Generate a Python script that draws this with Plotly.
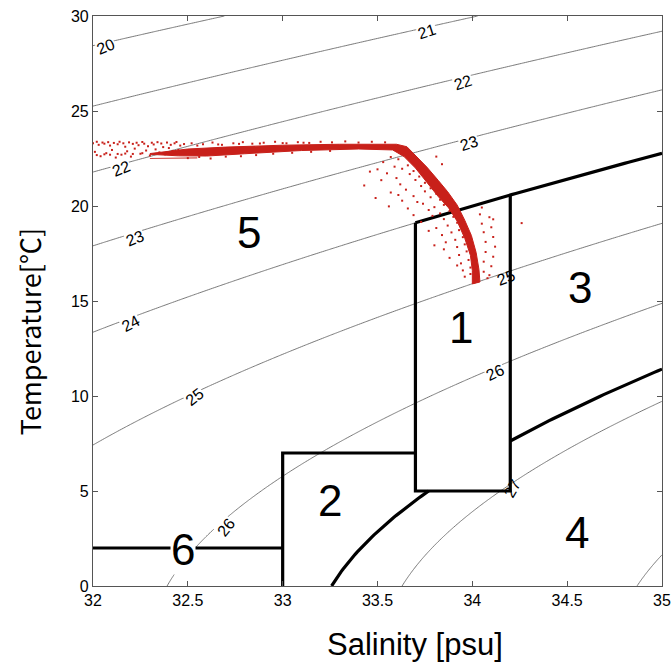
import numpy as np
import plotly.graph_objects as go

# ---------------- data ----------------
S_RANGE = [32.0, 35.0]
T_RANGE = [0.0, 30.0]
contour_levels = [20, 21, 22, 23, 24, 25, 26, 27, 28]
boundary_sigma_upper = 24.0      # top of box 1 / region 3
boundary_sigma_lower = 26.7      # region 3/4 and 2/4 boundary

box1_S = [33.7, 34.2]
box1_T_bottom = 5.0
box2_S = [33.0, 33.7]
box2_T_top = 7.0
region6_T = 2.0

region_labels = ["1", "2", "3", "4", "5", "6"]
region_label_S = [33.94, 33.25, 34.57, 34.55, 32.82, 32.475]
region_label_T = [13.6, 4.5, 15.7, 2.8, 18.6, 1.9]

clabel_text = ["20", "21", "22", "22", "23", "23", "24", "25", "25", "26", "26", "27"]
clabel_S = [32.07, 33.76, 32.15, 33.95, 32.22, 33.98, 32.20, 32.54, 34.18, 32.70, 34.12, 34.21]
clabel_T = [28.37, 29.16, 22.0, 26.5, 18.3, 23.3, 13.8, 9.95, 16.26, 3.1, 11.26, 5.15]
clabel_angle = [-22, -18, -22, -18, -22, -18, -28, -38, -20, -52, -25, -60]

# dense band of the observed T-S distribution (upper/left edge, then lower/right edge)
band_upper_S = [32.3, 32.4, 32.5, 32.7, 33.0, 33.3, 33.5, 33.6, 33.655, 33.7, 33.76, 33.82,
                33.87, 33.92, 33.96, 33.995, 34.02, 34.035, 34.04]
band_upper_T = [22.76, 22.88, 23.0, 23.1, 23.2, 23.25, 23.27, 23.25, 23.12, 22.65, 22.05, 21.35,
                20.75, 20.05, 19.25, 18.45, 17.55, 16.65, 16.0]
band_lower_S = [34.0, 34.0, 33.99, 33.96, 33.92, 33.875, 33.82, 33.76, 33.70, 33.64,
                33.58, 33.4, 33.1, 32.8, 32.6, 32.45, 32.3]
band_lower_T = [15.9, 16.6, 17.4, 18.3, 19.2, 19.9, 20.5, 21.25, 22.0, 22.6,
                22.95, 23.0, 22.92, 22.75, 22.63, 22.64, 22.72]
streak_S = [32.3, 32.42, 32.55]
streak_T = [22.5, 22.5, 22.53]

# scattered individual observations
left_S = [32.00, 32.02, 32.03, 32.05, 32.06, 32.08, 32.09, 32.11, 32.13, 32.14, 32.16, 32.17,
          32.19, 32.21, 32.23, 32.24, 32.26, 32.27, 32.29, 32.31, 32.32, 32.34, 32.36, 32.37,
          32.39, 32.41, 32.43, 32.44, 32.46, 32.48, 32.01, 32.04, 32.07, 32.10, 32.12, 32.15,
          32.18, 32.20, 32.22, 32.25, 32.28, 32.30, 32.33, 32.35, 32.38, 32.40, 32.42, 32.45,
          32.02, 32.06, 32.09, 32.13, 32.17, 32.21, 32.26]
left_T = [23.30, 23.38, 23.22, 23.34, 23.28, 23.36, 23.18, 23.32, 23.25, 23.38, 23.30, 23.12,
          23.35, 23.27, 23.33, 23.20, 23.37, 23.28, 23.15, 23.33, 23.24, 23.36, 23.29, 23.10,
          23.34, 23.22, 23.30, 23.37, 23.18, 23.26, 22.85, 22.62, 22.78, 22.95, 22.55, 22.70,
          22.88, 22.60, 23.02, 22.75, 22.92, 22.66, 22.98, 22.82, 22.72, 23.05, 22.90, 22.95,
          22.68, 22.72, 22.70, 22.74, 22.76, 22.74, 22.78]
top_S = [32.52, 32.58, 32.63, 32.68, 32.74, 32.79, 32.84, 32.90, 32.96, 33.02, 33.08, 33.14,
         33.20, 33.26, 33.33, 33.40, 33.47, 33.54, 32.55, 32.66, 32.77, 32.88, 33.00, 33.11]
top_T = [23.30, 23.25, 23.34, 23.22, 23.30, 23.36, 23.28, 23.33, 23.38, 23.30, 23.36, 23.32,
         23.38, 23.35, 23.40, 23.34, 23.38, 23.35, 23.18, 23.24, 23.27, 23.29, 23.31, 23.33]
bot_S = [32.50, 32.56, 32.62, 32.70, 32.78, 32.86, 32.95, 33.05, 33.15, 33.25]
bot_T = [22.52, 22.58, 22.50, 22.60, 22.62, 22.68, 22.75, 22.80, 22.85, 22.90]
halo_S = [33.61, 33.57, 33.53, 33.66, 33.59, 33.50, 33.69, 33.63, 33.55, 33.46, 33.72, 33.67,
          33.60, 33.52, 33.75, 33.70, 33.62, 33.43, 33.78, 33.73, 33.65, 33.57, 33.81, 33.75,
          33.69, 33.61, 33.49, 33.83, 33.78, 33.71, 33.63, 33.85, 33.80, 33.74, 33.66, 33.56,
          33.88, 33.83, 33.77, 33.69, 33.90, 33.85, 33.79, 33.73, 33.92, 33.87, 33.81, 33.93,
          33.89, 33.84, 33.77, 33.95, 33.91, 33.86, 33.96, 33.92, 33.85, 33.80, 33.97, 33.93,
          33.88, 33.98, 33.94, 33.99, 33.95, 33.92, 33.99, 33.96]
halo_T = [22.46, 22.58, 22.31, 22.14, 22.07, 21.93, 21.84, 21.96, 21.72, 21.81, 21.55, 21.68,
          21.47, 21.36, 21.22, 21.37, 21.14, 21.08, 20.93, 21.05, 20.86, 20.71, 20.64, 20.77,
          20.52, 20.58, 20.42, 20.33, 20.46, 20.21, 20.28, 20.06, 19.94, 20.12, 19.87, 19.98,
          19.74, 19.61, 19.79, 19.52, 19.43, 19.31, 19.48, 19.16, 19.12, 18.97, 18.84, 18.73,
          18.61, 18.47, 18.69, 18.36, 18.22, 18.09, 17.98, 17.84, 17.72, 17.93, 17.61, 17.42,
          17.27, 17.16, 16.98, 16.76, 16.61, 16.87, 16.42, 16.28]
right_S = [34.05, 34.04, 34.09, 34.05, 34.10, 34.06, 34.11, 34.07, 34.12, 34.07, 34.11,
           34.06, 34.10, 34.06, 34.09, 34.26, 34.11, 33.81, 33.84, 34.08]
right_T = [19.92, 19.56, 19.41, 19.07, 18.88, 18.62, 18.37, 18.11, 17.86, 17.58, 17.33,
           17.07, 16.83, 16.54, 16.36, 19.10, 19.30, 22.60, 22.20, 16.20]

RED = "#c8201a"

# ---------------- density (UNESCO EOS-80, surface) ----------------
def sigma_t(S, T):
    S = np.asarray(S, float)
    T = np.asarray(T, float)
    rw = (999.842594 + 6.793952e-2 * T - 9.095290e-3 * T**2 + 1.001685e-4 * T**3
          - 1.120083e-6 * T**4 + 6.536332e-9 * T**5)
    A = 0.824493 - 4.0899e-3 * T + 7.6438e-5 * T**2 - 8.2467e-7 * T**3 + 5.3875e-9 * T**4
    B = -5.72466e-3 + 1.0227e-4 * T - 1.6546e-6 * T**2
    return rw + A * S + B * S**1.5 + 4.8314e-4 * S**2 - 1000.0


def T_on_isopycnal(S, sig):
    S = np.asarray(S, float)
    lo = np.full_like(S, -2.0)
    hi = np.full_like(S, 35.0)
    for _ in range(60):
        mid = 0.5 * (lo + hi)
        too_dense = sigma_t(S, mid) > sig
        lo = np.where(too_dense, mid, lo)
        hi = np.where(too_dense, hi, mid)
    return 0.5 * (lo + hi)


def S_on_isopycnal(T, sig):
    T = np.asarray(T, float)
    lo = np.full_like(T, 25.0)
    hi = np.full_like(T, 40.0)
    for _ in range(60):
        mid = 0.5 * (lo + hi)
        too_light = sigma_t(mid, T) < sig
        lo = np.where(too_light, mid, lo)
        hi = np.where(too_light, hi, mid)
    return 0.5 * (lo + hi)


gS = np.linspace(S_RANGE[0], S_RANGE[1], 301)
gT = np.linspace(T_RANGE[0], T_RANGE[1], 301)
SS, TT = np.meshgrid(gS, gT)
Z = sigma_t(SS, TT)

fig = go.Figure()

fig.add_trace(go.Contour(
    x=gS, y=gT, z=Z,
    contours=dict(start=contour_levels[0], end=contour_levels[-1], size=1,
                  coloring="lines", showlabels=False),
    colorscale=[[0, "#6a6a6a"], [1, "#6a6a6a"]],
    line=dict(width=0.9), showscale=False, hoverinfo="skip",
))

# thick boundaries
THICK = dict(color="black", width=3.2)
upS = np.linspace(box1_S[0], S_RANGE[1], 60)
upT = T_on_isopycnal(upS, boundary_sigma_upper)
fig.add_trace(go.Scatter(x=upS, y=upT, mode="lines", line=THICK, hoverinfo="skip"))

lowA_T = np.linspace(T_RANGE[0], box1_T_bottom, 40)
lowA_S = S_on_isopycnal(lowA_T, boundary_sigma_lower)
fig.add_trace(go.Scatter(x=lowA_S, y=lowA_T, mode="lines", line=THICK, hoverinfo="skip"))
lowB_S = np.linspace(box1_S[1], S_RANGE[1], 40)
lowB_T = T_on_isopycnal(lowB_S, boundary_sigma_lower)
fig.add_trace(go.Scatter(x=lowB_S, y=lowB_T, mode="lines", line=THICK, hoverinfo="skip"))

b1_top = T_on_isopycnal(np.array(box1_S), boundary_sigma_upper)
fig.add_trace(go.Scatter(
    x=[box1_S[0], box1_S[0], box1_S[1], box1_S[1]],
    y=[b1_top[0], box1_T_bottom, box1_T_bottom, b1_top[1]],
    mode="lines", line=THICK, hoverinfo="skip"))
fig.add_trace(go.Scatter(
    x=[box2_S[0], box2_S[0], box2_S[1]],
    y=[T_RANGE[0], box2_T_top, box2_T_top],
    mode="lines", line=THICK, hoverinfo="skip"))
fig.add_trace(go.Scatter(
    x=[S_RANGE[0], box2_S[0]], y=[region6_T, region6_T],
    mode="lines", line=THICK, hoverinfo="skip"))

# observations
fig.add_trace(go.Scatter(
    x=band_upper_S + band_lower_S, y=band_upper_T + band_lower_T,
    mode="lines", fill="toself", fillcolor=RED, line=dict(color=RED, width=1),
    hoverinfo="skip"))
fig.add_trace(go.Scatter(x=streak_S, y=streak_T, mode="lines",
                         line=dict(color=RED, width=1.2), opacity=0.8, hoverinfo="skip"))
for xs, ys in ((left_S, left_T), (top_S, top_T), (bot_S, bot_T),
               (halo_S, halo_T), (right_S, right_T)):
    fig.add_trace(go.Scatter(x=xs, y=ys, mode="markers",
                             marker=dict(color=RED, size=2, symbol="square", line=dict(width=0)),
                             hoverinfo="skip"))

annotations = []
for txt, s, t, a in zip(clabel_text, clabel_S, clabel_T, clabel_angle):
    covered = not (txt in ("25", "27") and s > 34)
    annotations.append(dict(
        x=s, y=t, text=txt, showarrow=False, textangle=a,
        font=dict(family="Arial", size=16, color="black"),
        bgcolor="white" if covered else "rgba(0,0,0,0)", borderpad=0))

for txt, s, t in zip(region_labels, region_label_S, region_label_T):
    annotations.append(dict(
        x=s, y=t, text=txt, showarrow=False,
        font=dict(family="Arial", size=44, color="black"),
        bgcolor="white" if txt == "6" else "rgba(0,0,0,0)", borderpad=0))

annotations.append(dict(
    xref="paper", yref="paper", x=0.566, y=-0.103, text="Salinity [psu]",
    showarrow=False, yanchor="middle", xanchor="center",
    font=dict(family="Arial", size=31, color="black")))
annotations.append(dict(
    xref="paper", yref="paper", x=-0.112, y=0.4456, text="Temperature[℃]",
    showarrow=False, yanchor="middle", xanchor="center", textangle=-90,
    font=dict(family="Noto Sans CJK JP", size=27, color="black")))

AX = dict(showline=True, mirror="ticks", linecolor="#555555", linewidth=1.2,
          ticks="inside", ticklen=5, tickcolor="#555555", showgrid=False, zeroline=False,
          automargin=False, tickfont=dict(family="Arial", size=16, color="black"))

fig.update_layout(
    width=671, height=663,
    margin=dict(l=93, r=9, t=16, b=77, autoexpand=False),
    paper_bgcolor="white", plot_bgcolor="white",
    showlegend=False,
    xaxis=dict(range=S_RANGE, tickvals=[32, 32.5, 33, 33.5, 34, 34.5, 35],
               ticktext=["32", "32.5", "33", "33.5", "34", "34.5", "35"], **AX),
    yaxis=dict(range=T_RANGE, tickvals=[0, 5, 10, 15, 20, 25, 30], **AX),
    annotations=annotations,
)

fig.write_html("out.html")
